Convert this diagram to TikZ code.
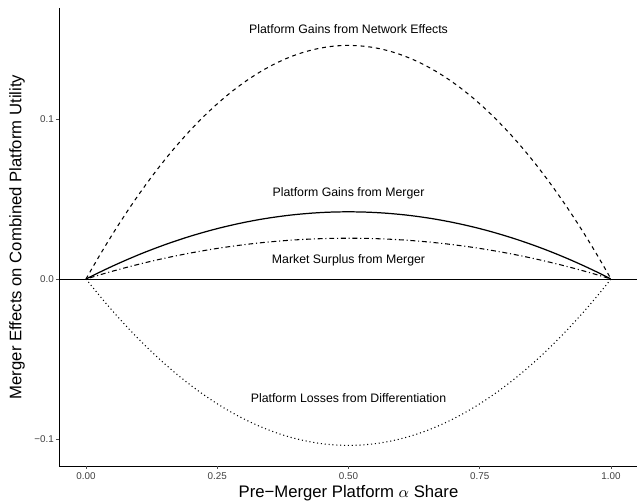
\documentclass[tikz,border=0pt]{standalone}
\usepackage{fontspec}
\setmainfont{Liberation Sans}
\begin{document}
\begin{tikzpicture}[x=10.5cm,y=32cm,
  curvelabel/.style={font=\fontsize{7}{8}\selectfont},
  ticklabel/.style={font=\fontsize{5.6}{6.5}\selectfont,text=black!75,inner sep=1pt},
  axislabel/.style={font=\fontsize{9.5}{11}\selectfont}]
  \useasboundingbox (-0.1638,-0.138125) rectangle (1.0533,0.174375);
  % axes
  \draw[line width=0.55pt] (-0.0514,0.1694) -- (-0.0514,-0.1169) -- (1.0495,-0.1169);
  \draw[line width=0.55pt] (-0.0514,0) -- (1.0495,0);
  \foreach \y/\l in {0.1/0.1,0/0.0,-0.1/−0.1}
    \draw[line width=0.4pt,black!70] (-0.0514,\y) -- ++(-0.0057,0) node[ticklabel,anchor=east] {\l};
  \foreach \x/\l in {0/0.00,0.25/0.25,0.5/0.50,0.75/0.75,1/1.00}
    \draw[line width=0.4pt,black!70] (\x,-0.1169) -- ++(0,-0.0019) node[ticklabel,anchor=north,inner sep=2pt] {\l};
  \node[axislabel] (xlab) at (0.5,-0.1338) {Pre−Merger Platform $\alpha$ Share};
  \node[axislabel,rotate=90] (ylab) at (-0.1314,0.02625) {Merger Effects on Combined Platform Utility};
  % curves
  \draw[line width=0.6pt,dash pattern=on 2.2pt off 2.2pt,domain=0:1,samples=80] plot (\x,{0.584*\x*(1-\x)});
  \draw[line width=0.7pt,domain=0:1,samples=80] plot (\x,{0.168*\x*(1-\x)});
  \draw[line width=0.6pt,dash pattern=on 0.6pt off 1.6pt on 2.8pt off 1.6pt,domain=0:1,samples=80] plot (\x,{0.102*\x*(1-\x)});
  \draw[line width=0.6pt,dash pattern=on 0.6pt off 1.6pt,domain=0:1,samples=80] plot (\x,{-0.416*\x*(1-\x)});
  % labels
  \node[curvelabel] (network) at (0.5,0.15625) {Platform Gains from Network Effects};
  \node[curvelabel] (gains) at (0.5,0.05375) {Platform Gains from Merger};
  \node[curvelabel] (surplus) at (0.5,0.011875) {Market Surplus from Merger};
  \node[curvelabel] (losses) at (0.5,-0.074375) {Platform Losses from Differentiation};
\end{tikzpicture}
\end{document}
